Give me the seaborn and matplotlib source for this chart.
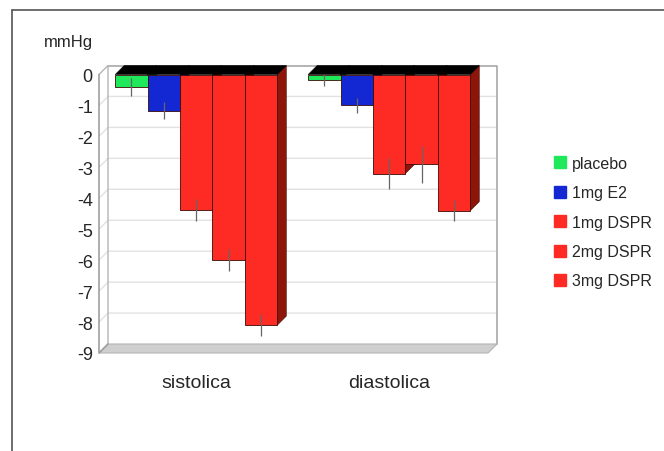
import numpy as np
import pandas as pd
import seaborn as sns
import matplotlib.pyplot as plt
from matplotlib.patches import Polygon
from matplotlib.lines import Line2D

# 数据
groups = ["sistolica", "diastolica"]
treatments = ["placebo", "1mg E2", "1mg DSPR", "2mg DSPR", "3mg DSPR"]
sistolica = [-0.4, -1.17, -4.38, -6.0, -8.1]
diastolica = [-0.17, -1.0, -3.2, -2.9, -4.4]
err_sist = [0.28, 0.27, 0.35, 0.36, 0.35]
err_diast = [0.2, 0.24, 0.51, 0.6, 0.35]
yticks = list(range(0, -10, -1))

colors = ["#1fe85a", "#1328d2", "#fe2b24", "#fe2b24", "#fe2b24"]
side_colors = ["#0c8a33", "#0a1680", "#8e1509", "#8e1509", "#8e1509"]

df = pd.DataFrame({
    "group": np.repeat(groups, len(treatments)),
    "treatment": treatments * len(groups),
    "value": sistolica + diastolica,
    "err": err_sist + err_diast,
})

sns.set_theme(style="white")
plt.rcParams["font.family"] = ["Liberation Sans", "DejaVu Sans"]

W, H = 664, 452
DX, DY = 9, 9  # 3D depth offset in pixels

fig = plt.figure(figsize=(W / 100, H / 100), dpi=100)
ax = fig.add_axes([99 / W, 1 - 354 / H, 389 / W, (354 - 75.5) / H])

sns.barplot(df, x="group", y="value", hue="treatment", palette=colors,
            saturation=1, width=0.84, errorbar=None, edgecolor="#3a0a05",
            linewidth=0.6, legend=False, ax=ax, zorder=2)

x0, x1 = -0.504, 1.512
ax.set_xlim(x0, x1)
ax.set_ylim(-9, 0)
ax.set_yticks(yticks)
ax.set_yticklabels([str(t) for t in yticks])
ax.set_xlabel("")
ax.set_ylabel("")
for s in ax.spines.values():
    s.set_visible(False)
ax.tick_params(axis="y", length=0, pad=4.5, labelsize=13)
ax.tick_params(axis="x", length=0, pad=15, labelsize=14)
ax.set_autoscale_on(False)

inv = fig.transFigure.inverted()


def fpt(x, y, back=False):
    px, py = ax.transData.transform((x, y))
    if back:
        px += DX
        py += DY
    return inv.transform((px, py))


def poly(pts, **kw):
    ax.add_patch(Polygon(pts, closed=True, transform=fig.transFigure,
                         clip_on=False, **kw))


def line(pts, **kw):
    pts = np.array(pts)
    ax.add_line(Line2D(pts[:, 0], pts[:, 1], transform=fig.transFigure,
                       clip_on=False, **kw))


# 底面和侧墙
poly([fpt(x0, -9), fpt(x1, -9), fpt(x1, -9, True), fpt(x0, -9, True)],
     facecolor="#cfcfcf", edgecolor="#b5b5b5", lw=0.8, zorder=0.4)
for t in yticks[1:-1]:
    line([fpt(x0, t), fpt(x0, t, True), fpt(x1, t, True)],
         color="#e2e2e2", lw=1.0, zorder=0.3)
line([fpt(x0, 0, True), fpt(x1, 0, True), fpt(x1, -9, True)],
     color="#a8a8a8", lw=1.2, zorder=0.5)
line([fpt(x0, 0), fpt(x0, 0, True), fpt(x0, -9, True)],
     color="#b5b5b5", lw=1.0, zorder=0.5)
line([fpt(x0, 0), fpt(x0, -9), fpt(x0, -9, True)],
     color="#a0a0a0", lw=1.2, zorder=0.5)

# 立体的顶面、侧面和误差线
for i, cont in enumerate(ax.containers):
    for j, bar in enumerate(cont):
        bx0 = bar.get_x()
        bx1 = bx0 + bar.get_width()
        v = bar.get_height()
        poly([fpt(bx1, 0), fpt(bx1, v), fpt(bx1, v, True), fpt(bx1, 0, True)],
             facecolor=side_colors[i], edgecolor="#3a0a05", lw=0.4, zorder=1.5)
        poly([fpt(bx0, 0), fpt(bx1, 0), fpt(bx1, 0, True), fpt(bx0, 0, True)],
             facecolor="black", edgecolor="black", lw=0.4, zorder=1.6)
        e = df["err"].iloc[j * len(treatments) + i]
        ax.vlines(bx0 + bar.get_width() / 2, v - e, v + e,
                  color="#666666", lw=0.9, zorder=3)

fig.text(68 / W, 1 - 42 / H, "mmHg", ha="center", va="center", fontsize=12)

# 外框
fig.add_artist(Line2D([12 / W, 12 / W], [0, 1 - 11 / H], transform=fig.transFigure,
                      color="#555555", lw=1.2))
fig.add_artist(Line2D([12 / W, 1], [1 - 11 / H, 1 - 11 / H], transform=fig.transFigure,
                      color="#555555", lw=1.2))

handles = [Line2D([], [], marker="s", ls="", color=c, markersize=9) for c in colors]
fig.legend(handles, treatments, loc="upper left",
           bbox_to_anchor=(546 / W, 1 - 149 / H), frameon=False, fontsize=11.5,
           handlelength=0.8, handletextpad=0.3, labelspacing=0.9, borderpad=0)

fig.savefig("out.png", dpi=100)
